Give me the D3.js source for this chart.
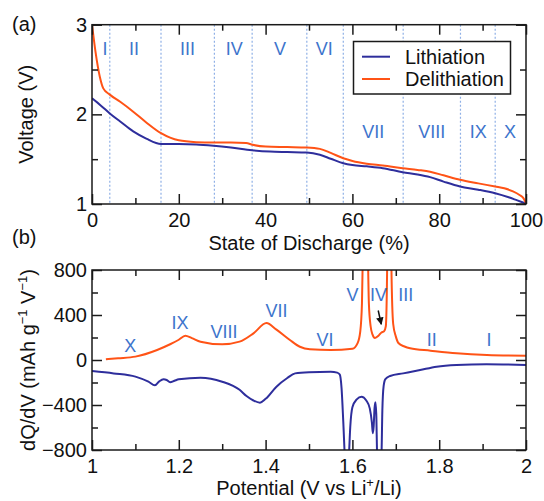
<!DOCTYPE html>
<html><head><meta charset="utf-8">
<script src="https://cdn.jsdelivr.net/npm/d3@7"></script>
<style>
html,body{margin:0;padding:0;background:#fff;}
svg text{font-family:"Liberation Sans",Arial,Helvetica,sans-serif;}
</style></head>
<body><svg id="c" width="544" height="501"></svg>
<script>
// ---------- Panel (a) data: voltage vs state of discharge ----------
const lithSOD = [0,2,4.1,6.5,9.5,12.5,15.9,20,24,28,32,36.9,41,45,49.5,52.5,55,57.9,60,63.3,67,71.6,75,77.9,81,84.8,89,92.9,96,98,100];
const lithV   = [2.18,2.10,2.01,1.92,1.81,1.73,1.67,1.67,1.665,1.65,1.63,1.60,1.585,1.58,1.575,1.55,1.505,1.455,1.435,1.42,1.40,1.355,1.33,1.30,1.25,1.195,1.16,1.12,1.075,1.04,1.005];
const delithSOD = [0,0.8,1.8,2.6,4.1,6.5,9.5,12.5,15.9,18,20,24,28,32,35.5,37,40,45,49.5,52.5,55,57.9,60,63.3,67,71.6,75,77.9,81,84.8,89,92.9,95,97,98.5,99.4,100];
const delithV   = [3.0,2.7,2.42,2.29,2.22,2.14,2.03,1.91,1.79,1.74,1.71,1.69,1.685,1.685,1.68,1.66,1.64,1.635,1.63,1.615,1.57,1.51,1.48,1.45,1.43,1.40,1.38,1.36,1.32,1.27,1.23,1.195,1.175,1.14,1.10,1.065,1.01];
const regionBounds = [4.1,15.9,28.2,36.9,49.5,57.9,71.7,84.9,92.9];
const regionLabelsA = ["I","II","III","IV","V","VI","VII","VIII","IX","X"];
const regionLabelXA = [3.0,9.7,22.0,32.8,43.3,53.5,64.8,78.3,89.0,96.3];
const regionLabelYA = [2.73,2.73,2.73,2.73,2.73,2.73,1.81,1.81,1.81,1.81];
const xTicksA = [0,20,40,60,80,100];
const yTicksA = [1,2,3];

// ---------- Panel (b) data: dQ/dV vs potential ----------
const delithPot = [1.032,1.06,1.1,1.15,1.18,1.2,1.215,1.23,1.25,1.3,1.34,1.372,1.402,1.425,1.456,1.479,1.502,1.55,1.6,1.612,1.618,1.622,1.626,1.63,1.634,1.638,1.642,1.646,1.652,1.66,1.667,1.673,1.677,1.680,1.683,1.687,1.690,1.694,1.70,1.706,1.72,1.733,1.78,1.84,1.91,2.0];
const delithDQ  = [6,15,30,89,140,180,216,195,163,139,163,237,328,270,178,118,95,88,100,150,250,500,1400,2200,1400,500,300,230,196,215,245,255,300,800,2200,2200,800,320,210,151,120,104,83,59,44,38];
const lithPot = [1.0,1.05,1.1,1.13,1.145,1.155,1.165,1.172,1.18,1.19,1.2,1.25,1.3,1.34,1.356,1.372,1.387,1.40,1.425,1.45,1.468,1.5,1.55,1.565,1.571,1.575,1.579,1.583,1.5875,1.592,1.595,1.6,1.61,1.621,1.632,1.64,1.645,1.647,1.649,1.651,1.653,1.655,1.657,1.662,1.667,1.669,1.672,1.676,1.687,1.717,1.756,1.794,1.84,1.909,2.0];
const lithDQ  = [-98,-119,-148,-193,-225,-190,-172,-178,-198,-185,-172,-157,-193,-265,-320,-360,-379,-345,-237,-160,-119,-108,-104,-112,-130,-250,-550,-900,-1100,-850,-600,-420,-350,-326,-360,-430,-560,-650,-590,-430,-375,-480,-850,-1100,-850,-450,-230,-170,-142,-119,-89,-59,-44,-38,-44];
const regionLabelsB = ["X","IX","VIII","VII","VI","V","IV","III","II","I"];
const regionLabelXB = [1.088,1.203,1.304,1.425,1.537,1.60,1.66,1.723,1.783,1.915];
const regionLabelYB = [133,329,252,444,184,578,578,578,184,184];
const xTicksB = [1,1.2,1.4,1.6,1.8,2];
const yTicksB = [-800,-400,0,400,800];

// ---------- styles ----------
const ORANGE = "#ff5316", BLUE = "#2e2e9c", ROMAN = "#3d74cc", DOT = "#8fb0e6", AX = "#1a1a1a";
const FS = 20, RFS = 18;

const svg = d3.select("#c");
const L = 92, R = 526;

// ===== Panel (a) =====
const xA = d3.scaleLinear().domain([0,100]).range([L,R]);
const yA = d3.scaleLinear().domain([1,3]).range([204,24.7]);
const gA = svg.append("g");
gA.append("clipPath").attr("id","clipA").append("rect").attr("x",L).attr("y",24.7).attr("width",R-L).attr("height",204-24.7);

gA.selectAll("line.reg").data(regionBounds).join("line")
  .attr("x1",d=>xA(d)).attr("x2",d=>xA(d)).attr("y1",yA(3)).attr("y2",yA(1))
  .attr("stroke",DOT).attr("stroke-width",1.2).attr("stroke-dasharray","2,2");

const lineA = d3.line().curve(d3.curveMonotoneX);
gA.append("path").attr("clip-path","url(#clipA)")
  .attr("d",lineA(lithSOD.map((s,i)=>[xA(s),yA(lithV[i])])))
  .attr("fill","none").attr("stroke",BLUE).attr("stroke-width",2);
gA.append("path").attr("clip-path","url(#clipA)")
  .attr("d",lineA(delithSOD.map((s,i)=>[xA(s),yA(delithV[i])])))
  .attr("fill","none").attr("stroke",ORANGE).attr("stroke-width",2);

gA.selectAll("text.rom").data(regionLabelsA).join("text")
  .attr("x",(d,i)=>xA(regionLabelXA[i])).attr("y",(d,i)=>yA(regionLabelYA[i]))
  .attr("dy","0.36em").attr("text-anchor","middle").attr("font-size",RFS).attr("fill",ROMAN).text(d=>d);

const lg = gA.append("g");
lg.append("rect").attr("x",353.5).attr("y",41.5).attr("width",157).attr("height",52.5)
  .attr("fill","#fff").attr("stroke",AX).attr("stroke-width",1.5);
[["Lithiation",BLUE,56.7],["Delithiation",ORANGE,79]].forEach(([t,c,y])=>{
  lg.append("line").attr("x1",362).attr("x2",390).attr("y1",y).attr("y2",y).attr("stroke",c).attr("stroke-width",2);
  lg.append("text").attr("x",405).attr("y",y).attr("dy","0.36em").attr("font-size",20).attr("fill","#111").text(t);
});

function axes(g, x, y, xt, xminor, yt, yminor, xfmt, yfmt, top, bot) {
  const big = 10, small = 6;
  g.append("g").attr("transform",`translate(0,${bot})`)
    .call(d3.axisBottom(x).tickValues(xminor).tickSize(-small).tickFormat(""))
    .call(a=>a.select(".domain").remove());
  g.append("g").attr("transform",`translate(0,${bot})`)
    .call(d3.axisBottom(x).tickValues(xt).tickSizeInner(-big).tickSizeOuter(0).tickPadding(9).tickFormat(xfmt))
    .call(a=>a.select(".domain").remove());
  g.append("g").attr("transform",`translate(0,${top})`)
    .call(d3.axisTop(x).tickValues(xt).tickSize(-big).tickFormat(""))
    .call(a=>a.select(".domain").remove());
  g.append("g").attr("transform",`translate(0,${top})`)
    .call(d3.axisTop(x).tickValues(xminor).tickSize(-small).tickFormat(""))
    .call(a=>a.select(".domain").remove());
  g.append("g").attr("transform",`translate(${L},0)`)
    .call(d3.axisLeft(y).tickValues(yt).tickSizeInner(-big).tickSizeOuter(0).tickPadding(5).tickFormat(yfmt))
    .call(a=>a.select(".domain").remove());
  g.append("g").attr("transform",`translate(${L},0)`)
    .call(d3.axisLeft(y).tickValues(yminor).tickSize(-small).tickFormat(""))
    .call(a=>a.select(".domain").remove());
  g.append("g").attr("transform",`translate(${R},0)`)
    .call(d3.axisRight(y).tickValues(yt).tickSize(-big).tickFormat(""))
    .call(a=>a.select(".domain").remove());
  g.append("g").attr("transform",`translate(${R},0)`)
    .call(d3.axisRight(y).tickValues(yminor).tickSize(-small).tickFormat(""))
    .call(a=>a.select(".domain").remove());
  g.append("rect").attr("x",L).attr("y",top).attr("width",R-L).attr("height",bot-top)
    .attr("fill","none").attr("stroke",AX).attr("stroke-width",1.5);
  g.selectAll(".tick line").attr("stroke",AX).attr("stroke-width",1.5);
  g.selectAll(".tick text").attr("font-size",FS).attr("fill","#111").attr("font-family","Liberation Sans, Arial, sans-serif");
}
axes(gA, xA, yA, xTicksA, [10,30,50,70,90], yTicksA, [1.5,2.5], d3.format("d"), d3.format("d"), 24.7, 204);

svg.append("text").attr("x",309).attr("y",250).attr("text-anchor","middle").attr("font-size",FS).attr("fill","#111").text("State of Discharge (%)");
svg.append("text").attr("transform","translate(33,114.3) rotate(-90)").attr("text-anchor","middle").attr("font-size",FS).attr("fill","#111").text("Voltage (V)");
svg.append("text").attr("x",12).attr("y",31).attr("font-size",FS).attr("fill","#111").text("(a)");
svg.append("text").attr("x",12).attr("y",244).attr("font-size",FS).attr("fill","#111").text("(b)");

// ===== Panel (b) =====
const xB = d3.scaleLinear().domain([1,2]).range([L,R]);
const yB = d3.scaleLinear().domain([-800,800]).range([450,270]);
const gB = svg.append("g");
gB.append("clipPath").attr("id","clipB").append("rect").attr("x",L).attr("y",270).attr("width",R-L).attr("height",180);
const lineB = d3.line().curve(d3.curveMonotoneX);
gB.append("path").attr("clip-path","url(#clipB)")
  .attr("d",lineB(lithPot.map((p,i)=>[xB(p),yB(lithDQ[i])])))
  .attr("fill","none").attr("stroke",BLUE).attr("stroke-width",2);
gB.append("path").attr("clip-path","url(#clipB)")
  .attr("d",lineB(delithPot.map((p,i)=>[xB(p),yB(delithDQ[i])])))
  .attr("fill","none").attr("stroke",ORANGE).attr("stroke-width",2);

gB.selectAll("text.rom").data(regionLabelsB).join("text")
  .attr("x",(d,i)=>xB(regionLabelXB[i])).attr("y",(d,i)=>yB(regionLabelYB[i]))
  .attr("dy","0.36em").attr("text-anchor","middle").attr("font-size",RFS).attr("fill",ROMAN).text(d=>d);

svg.append("defs").append("marker").attr("id","ah").attr("viewBox","0 0 10 10").attr("refX",9).attr("refY",5)
  .attr("markerWidth",5).attr("markerHeight",5).attr("orient","auto")
  .append("path").attr("d","M0,0L10,5L0,10z").attr("fill","#111");
gB.append("line").attr("x1",xB(1.6595)).attr("y1",yB(440)).attr("x2",xB(1.6665)).attr("y2",yB(318))
  .attr("stroke","#111").attr("stroke-width",1.5).attr("marker-end","url(#ah)");

axes(gB, xB, yB, xTicksB, [1.1,1.3,1.5,1.7,1.9], yTicksB, [-600,-200,200,600], d=>d3.format("")(d), d3.format("d"), 270, 450);

svg.append("text").attr("x",309).attr("y",495).attr("text-anchor","middle").attr("font-size",FS).attr("fill","#111")
  .call(t=>{t.append("tspan").text("Potential (V vs Li");
           t.append("tspan").attr("font-size",13).attr("dy",-8).text("+");
           t.append("tspan").attr("dy",8).text("/Li)");});
svg.append("text").attr("transform","translate(35,360) rotate(-90)").attr("text-anchor","middle").attr("font-size",FS).attr("fill","#111")
  .call(t=>{t.append("tspan").text("dQ/dV (mAh g");
           t.append("tspan").attr("font-size",13).attr("dy",-8).text("\u22121");
           t.append("tspan").attr("dy",8).text(" V");
           t.append("tspan").attr("font-size",13).attr("dy",-8).text("\u22121");
           t.append("tspan").attr("dy",8).text(")");});
</script></body></html>
